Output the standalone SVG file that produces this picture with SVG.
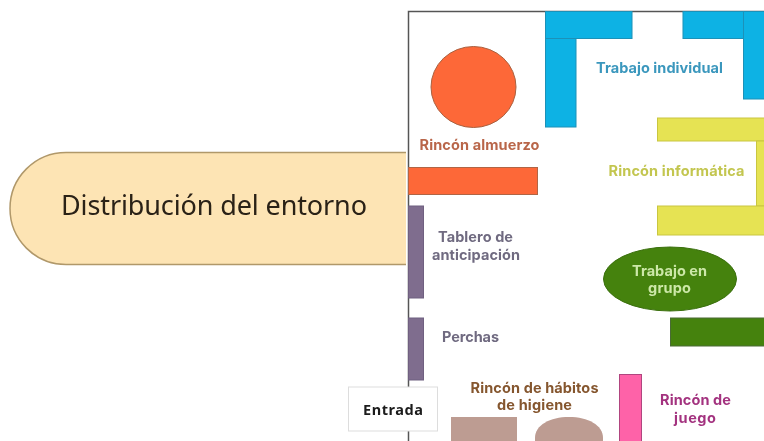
<svg xmlns="http://www.w3.org/2000/svg" width="764" height="441" viewBox="0 0 764 441">
<defs><filter id="soft" x="-5%" y="-5%" width="110%" height="110%"><feGaussianBlur stdDeviation="0.5"/></filter></defs>
<style>
text{font-family:"Inter","Liberation Sans",sans-serif;font-weight:700;font-size:14.5px;text-anchor:middle}
.b{stroke-width:1}
</style>
<rect width="764" height="441" fill="#fff"/>
<g id="canvas" filter="url(#soft)">
<g id="entorno"><path d="M406 152.500H66A56 56 0 0 0 66 264.500H406Z" fill="#fde4b4"/><path d="M406 152.500H66A56 56 0 0 0 66 264.500H406" fill="none" stroke="#b0986a" stroke-width="1.500"/>
<text x="214" y="215" textLength="306" style="font-family:'Noto Sans','Open Sans',sans-serif;font-weight:400;font-size:27px" fill="#2a2118">Distribución del entorno</text></g>
<g id="frame"><path d="M408.500 441V11.500H764" fill="none" stroke="#555" stroke-width="1.500"/></g>
<g id="trabajo-individual" fill="#0cb2e4" stroke="#1c91b8" class="b">
<rect x="545.500" y="11.500" width="86.500" height="27"/><rect x="545.500" y="38.500" width="30.500" height="88.500"/>
<rect x="683" y="11.500" width="60.500" height="27"/><rect x="743.500" y="11.500" width="21" height="87.500"/>
<text x="659.500" y="73" textLength="127" fill="#3a97bd" stroke="none">Trabajo individual</text></g>
<g id="rincon-almuerzo"><ellipse cx="473.500" cy="87" rx="42.500" ry="40.500" fill="#fd6837" stroke="#a9603f"/>
<rect x="408.500" y="167.500" width="129" height="27" fill="#fd6837" stroke="#b06545"/>
<text x="479.500" y="150" textLength="120" fill="#b9664a">Rincón almuerzo</text></g>
<g id="rincon-informatica" fill="#e6e352" stroke="#c9c640"><rect x="657.500" y="118" width="107" height="23"/><rect x="756.500" y="141" width="8" height="65"/><rect x="657.500" y="206" width="107" height="29"/>
<text x="676.500" y="176" textLength="136" fill="#c3c650" stroke="none">Rincón informática</text></g>
<g id="tablero"><rect x="408.500" y="206" width="15" height="92" fill="#7f6d8e" stroke="#6f6080"/>
<text x="475.500" y="242" textLength="75" fill="#6f6a80">Tablero de</text><text x="476" y="260" textLength="88" fill="#6f6a80">anticipación</text></g>
<g id="perchas"><rect x="408.500" y="318" width="15" height="62" fill="#7f6d8e" stroke="#6f6080"/>
<text x="470.500" y="342" textLength="57" fill="#6f6a80">Perchas</text></g>
<g id="trabajo-grupo"><ellipse cx="670" cy="279" rx="66.500" ry="32" fill="#448210" stroke="#3c7012"/>
<rect x="670.500" y="318" width="94" height="28" fill="#448210" stroke="#4a6b35"/>
<text x="669.500" y="276" textLength="75" fill="#cde8a8">Trabajo en</text><text x="669.500" y="293" textLength="43" fill="#cde8a8">grupo</text></g>
<g id="rincon-juego"><rect x="619.500" y="374.500" width="22" height="70" fill="#fe62a8" stroke="#b0457f"/>
<text x="695.500" y="405" textLength="71" fill="#a3337f">Rincón de</text><text x="695" y="423" textLength="42" fill="#a3337f">juego</text></g>
<g id="rincon-higiene" fill="#bd9c92"><rect x="451" y="417" width="66" height="30"/><path d="M535 441V438C535 425 550 417 569 417S603 425 603 438V441Z"/>
<text x="534.500" y="393" textLength="128" fill="#85562f">Rincón de hábitos</text><text x="534.500" y="410" textLength="75" fill="#85562f">de higiene</text></g>
<g id="entrada"><rect x="348.500" y="387" width="89" height="44" fill="#fff" stroke="#ddd"/>
<text x="393" y="415" textLength="60" style="font-family:'Noto Sans','Open Sans',sans-serif;font-size:14.500px" fill="#1a1a1a">Entrada</text></g>
</g>
</svg>
